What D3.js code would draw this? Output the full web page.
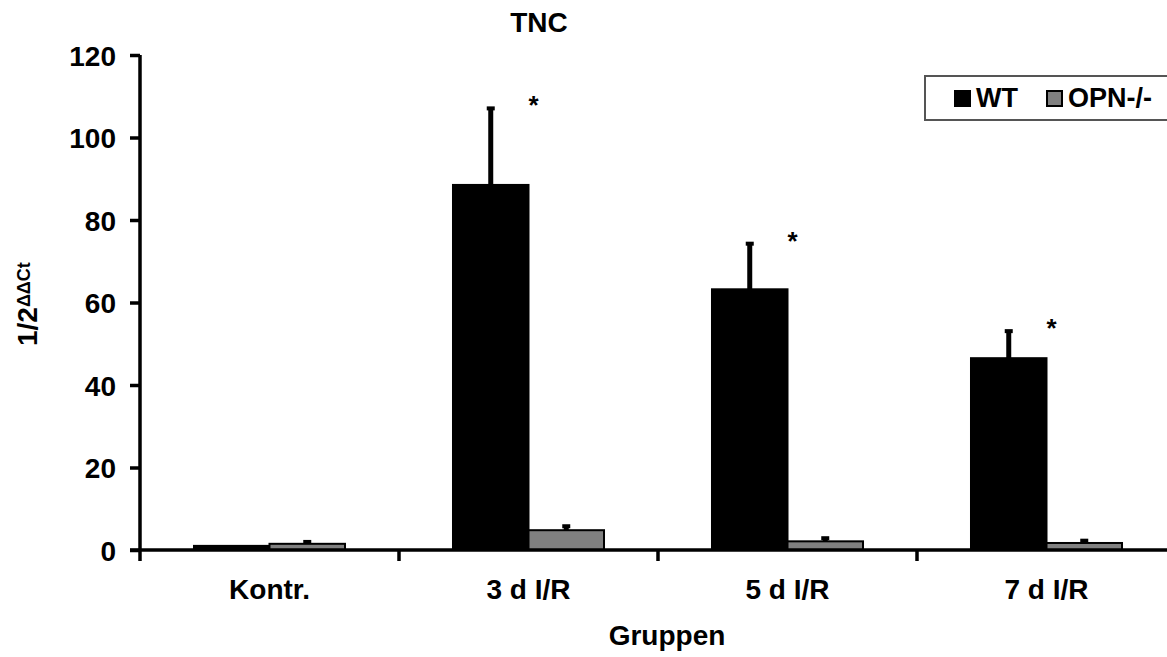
<!DOCTYPE html>
<html>

<head>
    <meta charset="utf-8">
    <title>TNC</title>
    <script src="https://d3js.org/d3.v7.min.js"></script>
    <style>
        body { margin: 0; background: #fff; }
        text { font-family: Arial, "Liberation Sans", sans-serif; font-weight: bold; fill: #000; }
    </style>
</head>

<body>
    <svg width="1167" height="657"></svg>
    <script>
        // data
        const groups = ["Kontr.", "3 d I/R", "5 d I/R", "7 d I/R"]
        const series = ["WT", "OPN-/-"]
        const wtMean = [1.0, 88.5, 63.2, 46.5]
        const wtErr = [0, 18.8, 11.3, 6.8]
        const opnMean = [1.5, 4.8, 2.1, 1.7]
        const opnErr = [0.7, 1.2, 1.0, 0.8]
        const signif = [false, true, true, true]
        const yTicks = [0, 20, 40, 60, 80, 100, 120]
        const colors = ["#000000", "#808080"]

        const svg = d3.select("svg")
        const margin = { top: 55, bottom: 107, left: 140 }
        const height = +svg.attr("height")

        const rows = []
        groups.forEach((g, i) => {
            rows.push({ group: g, key: series[0], v: wtMean[i], e: wtErr[i], c: colors[0] })
            rows.push({ group: g, key: series[1], v: opnMean[i], e: opnErr[i], c: colors[1] })
        })

        const x0 = d3.scaleBand().domain(groups).range([margin.left, 1176])
        const x1 = d3.scaleBand().domain(series).range([0, x0.bandwidth()]).paddingOuter(0.715)
        const y = d3.scaleLinear().domain([0, 120]).range([height - margin.bottom, margin.top])

        // bars
        svg.append("g").selectAll("rect")
            .data(rows)
            .enter()
            .append("rect")
            .attr("x", d => x0(d.group) + x1(d.key))
            .attr("y", d => y(d.v))
            .attr("width", x1.bandwidth())
            .attr("height", d => y(0) - y(d.v))
            .attr("fill", d => d.c)
            .attr("stroke", "#000")
            .attr("stroke-width", 2)

        // error bars (upper only)
        const eb = svg.append("g").selectAll("g")
            .data(rows.filter(d => d.e > 0))
            .enter()
            .append("g")
        eb.append("line")
            .attr("x1", d => x0(d.group) + x1(d.key) + x1.bandwidth() / 2)
            .attr("x2", d => x0(d.group) + x1(d.key) + x1.bandwidth() / 2)
            .attr("y1", d => y(d.v))
            .attr("y2", d => y(d.v + d.e))
            .attr("stroke", "#000")
            .attr("stroke-width", 5)
        eb.append("rect")
            .attr("x", d => x0(d.group) + x1(d.key) + x1.bandwidth() / 2 - 4)
            .attr("y", d => y(d.v + d.e) - 1)
            .attr("width", 8)
            .attr("height", 4)
            .attr("fill", "#000")

        // asterisks
        svg.append("g").selectAll("text")
            .data(groups.filter((g, i) => signif[i]))
            .enter()
            .append("text")
            .attr("x", g => x0(g) + x1(series[1]) + 5)
            .attr("y", g => {
                const i = groups.indexOf(g)
                return y(wtMean[i] + wtErr[i]) + 7
            })
            .attr("text-anchor", "middle")
            .style("font-size", "26px")
            .text("*")

        // y axis
        const yAxis = d3.axisLeft(y).tickValues(yTicks).tickSize(10).tickPadding(14)
        const gy = svg.append("g").attr("transform", `translate(${margin.left},0)`).call(yAxis)
        gy.select(".domain").attr("stroke-width", 3.5).attr("d", `M0,${y(120)}V${y(0)}`)
        gy.selectAll(".tick line").attr("stroke-width", 3.5)
        gy.selectAll("text").style("font-size", "28px").attr("dy", "0.36em")

        // x axis
        const xAxis = d3.axisBottom(x0).tickSize(0).tickPadding(29)
        const gx = svg.append("g").attr("transform", `translate(0,${y(0)})`).call(xAxis)
        gx.select(".domain").attr("stroke-width", 3.5).attr("d", `M${margin.left - 10},0H1167`)
        gx.selectAll("text").style("font-size", "28px").attr("dy", "0.71em")
        gx.selectAll(".sep")
            .data(groups)
            .enter()
            .append("line")
            .attr("x1", g => x0(g))
            .attr("x2", g => x0(g))
            .attr("y1", 0)
            .attr("y2", 11)
            .attr("stroke", "#000")
            .attr("stroke-width", 3.5)

        // titles
        svg.append("text")
            .attr("x", 539)
            .attr("y", 32)
            .attr("text-anchor", "middle")
            .style("font-size", "28px")
            .text("TNC")

        svg.append("text")
            .attr("x", 667)
            .attr("y", 645)
            .attr("text-anchor", "middle")
            .style("font-size", "28px")
            .text("Gruppen")

        const yl = svg.append("text")
            .attr("transform", "translate(37,346) rotate(-90)")
            .style("font-size", "28px")
        yl.append("tspan").text("1/2")
        yl.append("tspan").attr("dy", "-0.4em").style("font-size", "18px").text("ΔΔCt")

        // legend
        const lg = svg.append("g")
        lg.append("rect")
            .attr("x", 925).attr("y", 76)
            .attr("width", 260).attr("height", 44)
            .attr("fill", "#fff")
            .attr("stroke", "#555")
            .attr("stroke-width", 2)
        const items = lg.selectAll("g.item")
            .data(series)
            .enter()
            .append("g")
            .attr("transform", (d, i) => `translate(${[955, 1047][i]},91)`)
        items.append("rect")
            .attr("width", 15).attr("height", 15)
            .attr("fill", (d, i) => colors[i])
            .attr("stroke", "#000")
            .attr("stroke-width", 2)
        items.append("text")
            .attr("x", 21)
            .attr("y", 16)
            .style("font-size", "27px")
            .text(d => d)
    </script>
</body>

</html>
